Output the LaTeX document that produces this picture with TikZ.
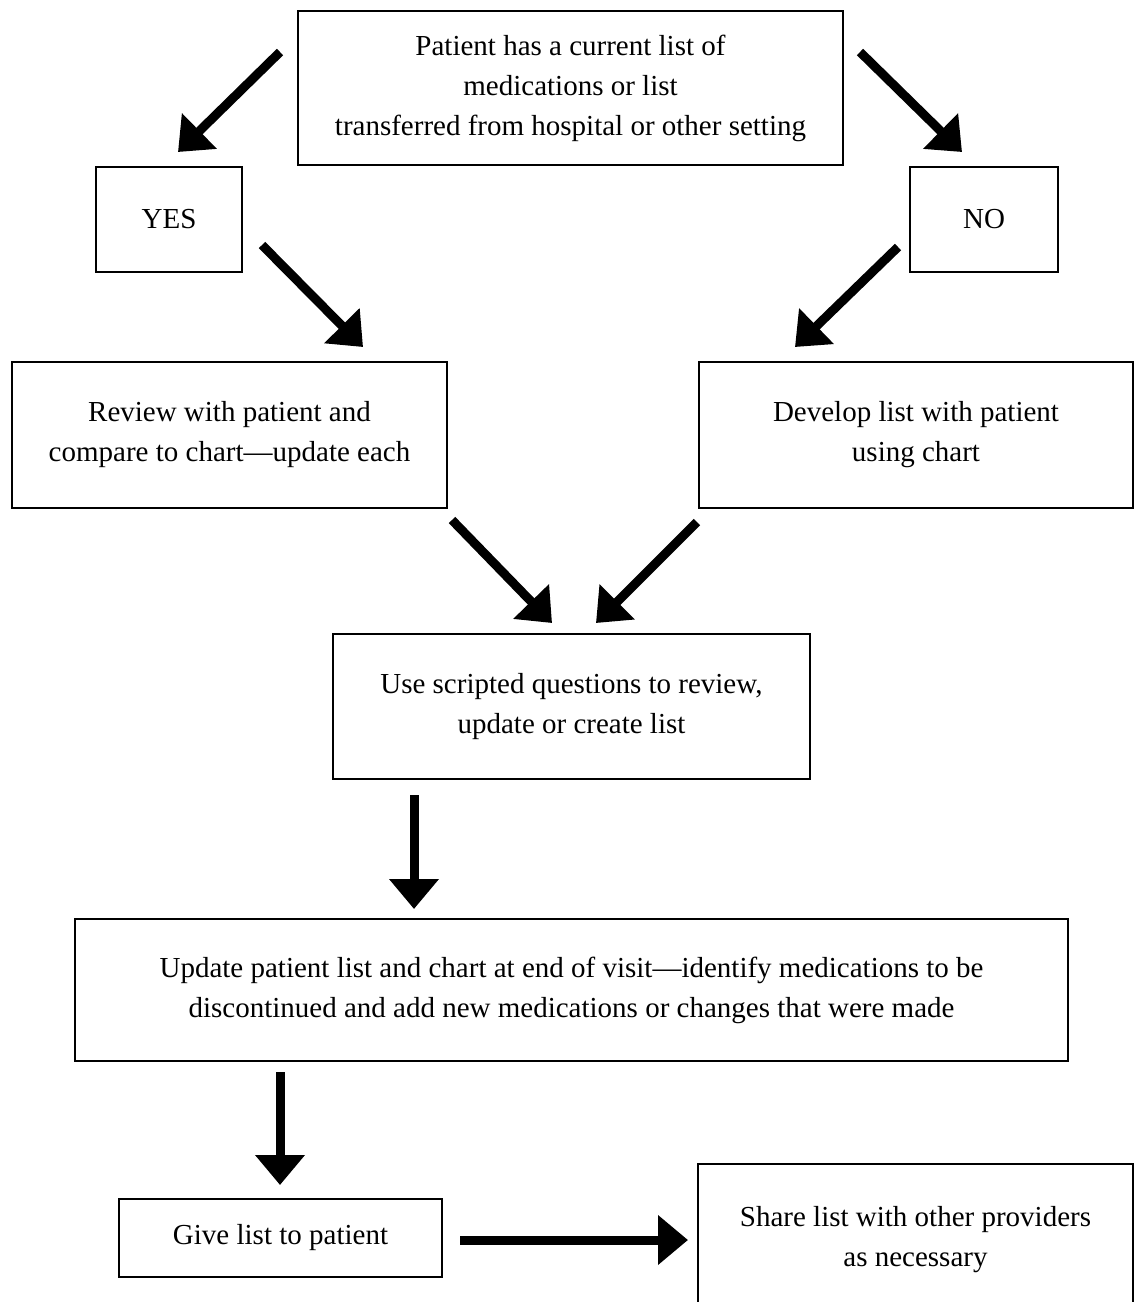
\documentclass[tikz,border=0pt]{standalone}
\usepackage{fontspec}
\setmainfont{Liberation Serif}
\usetikzlibrary{arrows.meta}

\begin{document}
\begin{tikzpicture}[x=0.5pt, y=-0.5pt,
    box/.style={draw, line width=1pt, align=center, inner sep=0pt,
        font=\fontsize{14.5}{20}\selectfont},
    flow/.style={line width=4.5pt, -{Triangle[width=24pt, length=15pt]}}]
    \useasboundingbox (0,0) rectangle (1134,1302);
    % boxes
    \node [box, minimum width=272.5pt, minimum height=77pt] (patient) at (570.5,88)
        {Patient has a current list of\\medications or list\\transferred from hospital or other setting};
    \node [box, minimum width=73pt, minimum height=52.5pt] (yes) at (169,219.5) {YES};
    \node [box, minimum width=74pt, minimum height=52.5pt] (no) at (984,219.5) {NO};
    \node [box, minimum width=217.5pt, minimum height=73pt] (review) at (229.5,435)
        {Review with patient and\\compare to chart—update each};
    \node [box, minimum width=217pt, minimum height=73pt] (develop) at (916,435)
        {Develop list with patient\\using chart};
    \node [box, minimum width=238.5pt, minimum height=72.5pt] (script) at (571.5,706.5)
        {Use scripted questions to review,\\update or create list};
    \node [box, minimum width=496.5pt, minimum height=71pt] (update) at (571.5,990)
        {Update patient list and chart at end of visit—identify medications to be\\discontinued and add new medications or changes that were made};
    \node [box, minimum width=161.5pt, minimum height=39pt] (give) at (280.5,1238)
        {Give list to patient};
    \node [box, minimum width=217.5pt, minimum height=76pt] (share) at (915.5,1240)
        {Share list with other providers\\as necessary};
    % arrow ends
    \coordinate (a1) at (280,52);   \coordinate (b1) at (178,152);
    \coordinate (a2) at (860,52);   \coordinate (b2) at (962,152);
    \coordinate (a3) at (262,245);  \coordinate (b3) at (363,347);
    \coordinate (a4) at (898,247);  \coordinate (b4) at (795,347);
    \coordinate (a5) at (452,520);  \coordinate (b5) at (552,623);
    \coordinate (a6) at (697,522);  \coordinate (b6) at (596,623);
    \coordinate (a7) at (414,795);  \coordinate (b7) at (414,909);
    \coordinate (a8) at (280,1072); \coordinate (b8) at (280,1185);
    \coordinate (a9) at (460,1240); \coordinate (b9) at (688,1240);
    \foreach \i in {1,...,9}
        \draw [flow] (a\i) -- (b\i);
\end{tikzpicture}
\end{document}
